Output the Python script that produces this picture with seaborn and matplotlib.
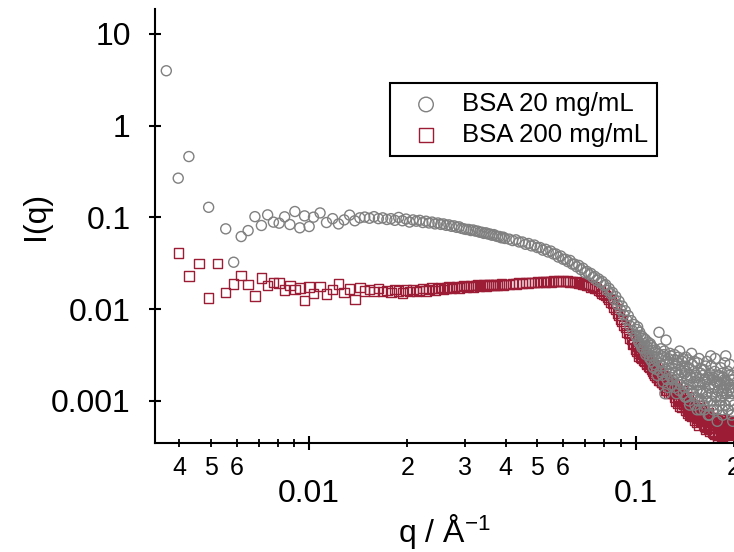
import numpy as np
import pandas as pd
import matplotlib
matplotlib.use("Agg")
import matplotlib.pyplot as plt
import seaborn as sns
from matplotlib.ticker import FixedLocator, FixedFormatter, NullLocator

# ---------------- data ----------------
q_low = [0.00365, 0.00397, 0.00428, 0.00460, 0.00492, 0.00523, 0.00555, 0.00587, 0.00619, 0.00650,
         0.00682, 0.00714, 0.00746, 0.00777, 0.00809, 0.00841, 0.00873, 0.00904, 0.00936, 0.00968,
         0.01000, 0.01031]
i20_low = [3.97, 0.268, 0.461, np.nan, 0.129, np.nan, 0.0751, 0.0325, 0.0619, 0.0719,
           0.102, 0.0817, 0.1067, 0.0889, 0.0866, 0.1016, 0.0837, 0.116, 0.0771, 0.104,
           0.0796, 0.1007]
i200_low = [np.nan, 0.0408, 0.0229, 0.0314, 0.0132, 0.0314, 0.0151, 0.0188, 0.0232, 0.0185,
            0.0139, 0.0219, 0.0181, 0.0195, 0.0192, 0.0162, 0.0180, 0.0165, 0.0171, 0.0124,
            0.0175, 0.0149]

q_mid = [0.0108, 0.0113, 0.0118, 0.0123, 0.0128, 0.0133, 0.0138, 0.0143, 0.0148, 0.0153,
         0.0158, 0.0163, 0.0168, 0.0173, 0.0178, 0.0183, 0.0188, 0.0193, 0.0198, 0.0203,
         0.0208, 0.0213, 0.0218, 0.0223, 0.0228, 0.0233, 0.0238, 0.0243, 0.0248, 0.0253,
         0.0258, 0.0263, 0.0268, 0.0273, 0.0278, 0.0283, 0.0288, 0.0293, 0.0298, 0.0303,
         0.0308, 0.0313, 0.0318, 0.0323, 0.0328, 0.0333, 0.0338, 0.0343, 0.0348, 0.0353,
         0.0358, 0.0363, 0.0368, 0.0373, 0.0378, 0.0383, 0.0388, 0.0393, 0.0398]
i20_mid = [0.112, 0.088, 0.097, 0.085, 0.094, 0.106, 0.092, 0.099, 0.101, 0.098,
           0.102, 0.097, 0.099, 0.095, 0.097, 0.093, 0.100, 0.092, 0.096, 0.089,
           0.094, 0.091, 0.093, 0.088, 0.091, 0.087, 0.089, 0.085, 0.087, 0.084,
           0.085, 0.082, 0.083, 0.080, 0.081, 0.078, 0.079, 0.076, 0.075, 0.074,
           0.074, 0.072, 0.073, 0.071, 0.071, 0.069, 0.069, 0.067, 0.068, 0.066,
           0.066, 0.064, 0.065, 0.063, 0.062, 0.062, 0.060, 0.061, 0.059]
i200_mid = [0.0178, 0.0146, 0.0163, 0.0189, 0.0151, 0.0166, 0.0128, 0.0172, 0.0158, 0.0163,
            0.0155, 0.0169, 0.0157, 0.0161, 0.0152, 0.0164, 0.0158, 0.0150, 0.0162, 0.0157,
            0.0165, 0.0155, 0.0160, 0.0168, 0.0158, 0.0163, 0.0170, 0.0161, 0.0167, 0.0172,
            0.0164, 0.0170, 0.0175, 0.0167, 0.0173, 0.0178, 0.0171, 0.0176, 0.0180, 0.0174,
            0.0178, 0.0182, 0.0175, 0.0180, 0.0183, 0.0177, 0.0181, 0.0185, 0.0179, 0.0183,
            0.0186, 0.0180, 0.0184, 0.0187, 0.0182, 0.0186, 0.0189, 0.0184, 0.0187]

q_high = [0.041, 0.042, 0.043, 0.044, 0.045, 0.046, 0.047, 0.048, 0.049, 0.050,
          0.051, 0.052, 0.053, 0.054, 0.055, 0.056, 0.057, 0.058, 0.059, 0.060,
          0.061, 0.062, 0.063, 0.064, 0.065, 0.066, 0.067, 0.068, 0.069, 0.070,
          0.071, 0.072, 0.073, 0.074, 0.075, 0.076, 0.077, 0.078, 0.079, 0.080,
          0.081, 0.082, 0.083, 0.084, 0.085, 0.086, 0.087, 0.088, 0.089, 0.090,
          0.091, 0.092, 0.093, 0.094, 0.095, 0.096, 0.097, 0.098, 0.099, 0.100,
          0.101, 0.102, 0.103, 0.104, 0.105, 0.106, 0.107, 0.108, 0.109, 0.110,
          0.111, 0.112, 0.113, 0.114, 0.115, 0.116, 0.117, 0.118, 0.119, 0.120,
          0.121, 0.122, 0.123, 0.124, 0.125, 0.126, 0.127, 0.128, 0.129, 0.130,
          0.131, 0.132, 0.133, 0.134, 0.135, 0.136, 0.137, 0.138, 0.139, 0.140,
          0.141, 0.142, 0.143, 0.144, 0.145, 0.146, 0.147, 0.148, 0.149, 0.150,
          0.151, 0.152, 0.153, 0.154, 0.155, 0.156, 0.157, 0.158, 0.159, 0.160,
          0.161, 0.162, 0.163, 0.164, 0.165, 0.166, 0.167, 0.168, 0.169, 0.170,
          0.171, 0.172, 0.173, 0.174, 0.175, 0.176, 0.177, 0.178, 0.179, 0.180,
          0.181, 0.182, 0.183, 0.184, 0.185, 0.186, 0.187, 0.188, 0.189, 0.190,
          0.191, 0.192, 0.193, 0.194, 0.195, 0.196, 0.197, 0.198, 0.199, 0.200]
i20_high = [0.058, 0.056, 0.057, 0.054, 0.054, 0.051, 0.052, 0.049, 0.050, 0.047,
            0.047, 0.044, 0.045, 0.042, 0.043, 0.040, 0.040, 0.037, 0.038, 0.035,
            0.035, 0.033, 0.034, 0.031, 0.031, 0.029, 0.030, 0.027, 0.028, 0.025,
            0.0258, 0.0238, 0.0245, 0.0222, 0.0228, 0.0206, 0.0214, 0.0195, 0.0201, 0.0182,
            0.0185, 0.0160, 0.0168, 0.0147, 0.0152, 0.0128, 0.0137, 0.0112, 0.0122, 0.0098,
            0.0108, 0.0087, 0.0096, 0.0076, 0.0085, 0.0066, 0.0075, 0.0058, 0.0068, 0.0052,
            0.0060, 0.0045, 0.0056, 0.0041, 0.0050, 0.0037, 0.0047, 0.0034, 0.0044, 0.0031,
            0.0042, 0.0027, 0.0038, 0.0025, 0.0036, 0.0022, 0.0033, 0.0056, 0.0021, 0.0031,
            0.0019, 0.0032, 0.0012, 0.0046, 0.0017, 0.0029, 0.0020, 0.0031, 0.0015, 0.0026,
            0.0028, 0.0014, 0.0024, 0.0017, 0.0030, 0.0013, 0.0022, 0.0016, 0.0027, 0.0012,
            0.0024, 0.0011, 0.0021, 0.0015, 0.0028, 0.0010, 0.0019, 0.0013, 0.0025, 0.0012,
            0.0021, 0.0009, 0.0018, 0.0013, 0.0026, 0.0010, 0.0016, 0.0008, 0.0022, 0.0012,
            0.0019, 0.0009, 0.0016, 0.0024, 0.0011, 0.0017, 0.0007, 0.0014, 0.0020, 0.0031,
            0.0010, 0.0017, 0.0008, 0.0014, 0.0021, 0.0011, 0.0016, 0.0006, 0.0013, 0.0019,
            0.0009, 0.0015, 0.0011, 0.0020, 0.0007, 0.0013, 0.0017, 0.0009, 0.0031, 0.0012,
            0.0016, 0.0008, 0.0013, 0.0019, 0.0010, 0.0014, 0.0007, 0.0012, 0.0017, 0.0009]
i200_high = [0.0185, 0.0190, 0.0188, 0.0192, 0.0190, 0.0194, 0.0192, 0.0196, 0.0194, 0.0197,
             0.0195, 0.0199, 0.0197, 0.0201, 0.0198, 0.0202, 0.0199, 0.0203, 0.0200, 0.0202,
             0.0199, 0.0202, 0.0198, 0.0200, 0.0195, 0.0197, 0.0192, 0.0193, 0.0187, 0.0188,
             0.0182, 0.0183, 0.0175, 0.0176, 0.0168, 0.0167, 0.0159, 0.0158, 0.0149, 0.0147,
             0.0140, 0.0134, 0.0128, 0.0120, 0.0115, 0.0104, 0.0100, 0.0090, 0.0086, 0.0077,
             0.0074, 0.0066, 0.0063, 0.0056, 0.0054, 0.0048, 0.0047, 0.0041, 0.0042, 0.0037,
             0.0039, 0.0033, 0.0036, 0.0030, 0.0034, 0.0028, 0.0031, 0.0026, 0.0029, 0.0024,
             0.0027, 0.0022, 0.0025, 0.0020, 0.0023, 0.0018, 0.0021, 0.0017, 0.0020, 0.0016,
             0.0019, 0.0015, 0.0018, 0.0013, 0.0017, 0.0014, 0.0016, 0.0012, 0.0015, 0.0013,
             0.0015, 0.0011, 0.0014, 0.0012, 0.0013, 0.00098, 0.0012, 0.0010, 0.0013, 0.00092,
             0.0011, 0.00085, 0.0010, 0.00078, 0.0011, 0.00082, 0.00095, 0.00072, 0.00090, 0.00076,
             0.00092, 0.00068, 0.00085, 0.00064, 0.00080, 0.00070, 0.00088, 0.00060, 0.00078, 0.00066,
             0.00074, 0.00056, 0.00070, 0.00052, 0.00068, 0.00060, 0.00075, 0.00050, 0.00064, 0.00058,
             0.00066, 0.00047, 0.00060, 0.00044, 0.00058, 0.00052, 0.00063, 0.00042, 0.00057, 0.00050,
             0.00060, 0.00045, 0.00055, 0.00041, 0.00058, 0.00048, 0.00062, 0.00044, 0.00053, 0.00049,
             0.00057, 0.00046, 0.00054, 0.00043, 0.00059, 0.00048, 0.00052, 0.00045, 0.00056, 0.00050]

# extra (interleaved) points of the dense, noisy high-q tail
q_tail = [0.1005, 0.1015, 0.1025, 0.1035, 0.1045, 0.1055, 0.1065, 0.1075, 0.1085, 0.1095,
          0.1105, 0.1115, 0.1125, 0.1135, 0.1145, 0.1155, 0.1165, 0.1175, 0.1185, 0.1195,
          0.1205, 0.1215, 0.1225, 0.1235, 0.1245, 0.1255, 0.1265, 0.1275, 0.1285, 0.1295,
          0.1305, 0.1315, 0.1325, 0.1335, 0.1345, 0.1355, 0.1365, 0.1375, 0.1385, 0.1395,
          0.1405, 0.1415, 0.1425, 0.1435, 0.1445, 0.1455, 0.1465, 0.1475, 0.1485, 0.1495,
          0.1505, 0.1515, 0.1525, 0.1535, 0.1545, 0.1555, 0.1565, 0.1575, 0.1585, 0.1595,
          0.1605, 0.1615, 0.1625, 0.1635, 0.1645, 0.1655, 0.1665, 0.1675, 0.1685, 0.1695,
          0.1705, 0.1715, 0.1725, 0.1735, 0.1745, 0.1755, 0.1765, 0.1775, 0.1785, 0.1795,
          0.1805, 0.1815, 0.1825, 0.1835, 0.1845, 0.1855, 0.1865, 0.1875, 0.1885, 0.1895,
          0.1905, 0.1915, 0.1925, 0.1935, 0.1945, 0.1955, 0.1965, 0.1975, 0.1985, 0.1995]
i20_tail = [0.0050, 0.0064, 0.0043, 0.0052, 0.0038, 0.0048, 0.0042, 0.0032, 0.0039, 0.0036,
            0.0029, 0.0040, 0.0031, 0.0023, 0.0034, 0.0028, 0.0019, 0.0030, 0.0026, 0.0037,
            0.0024, 0.0016, 0.0035, 0.0022, 0.0027, 0.0014, 0.0025, 0.0033, 0.0018, 0.0023,
            0.0017, 0.0032, 0.0020, 0.0012, 0.0026, 0.0019, 0.0035, 0.0015, 0.0021, 0.0029,
            0.0014, 0.0020, 0.0030, 0.0011, 0.0017, 0.0023, 0.0009, 0.0018, 0.0033, 0.0015,
            0.0016, 0.0027, 0.0011, 0.0019, 0.0008, 0.0015, 0.0029, 0.0013, 0.0020, 0.0010,
            0.0013, 0.0022, 0.0008, 0.0017, 0.0012, 0.0027, 0.0010, 0.0018, 0.0007, 0.0015,
            0.0024, 0.0012, 0.0018, 0.0009, 0.0015, 0.0029, 0.0011, 0.0008, 0.0019, 0.0013,
            0.0016, 0.0010, 0.0023, 0.0012, 0.0008, 0.0018, 0.0014, 0.0026, 0.0009, 0.0015,
            0.0012, 0.0021, 0.0008, 0.0015, 0.0025, 0.0010, 0.0017, 0.0013, 0.0006, 0.0019]
i200_tail = [0.0035, 0.0040, 0.0031, 0.0036, 0.0029, 0.0032, 0.0027, 0.0030, 0.0025, 0.0027,
             0.0023, 0.0026, 0.0021, 0.0024, 0.0019, 0.0022, 0.0018, 0.0020, 0.0017, 0.0019,
             0.0016, 0.0019, 0.0014, 0.0017, 0.0013, 0.0016, 0.0012, 0.0015, 0.0013, 0.0014,
             0.0012, 0.0014, 0.0010, 0.0013, 0.00095, 0.0012, 0.00088, 0.0011, 0.00085, 0.0010,
             0.00092, 0.0010, 0.00080, 0.00094, 0.00074, 0.00088, 0.00070, 0.00084, 0.00068, 0.00080,
             0.00075, 0.00062, 0.00082, 0.00058, 0.00074, 0.00066, 0.00054, 0.00071, 0.00063, 0.00069,
             0.00061, 0.00072, 0.00053, 0.00066, 0.00049, 0.00063, 0.00055, 0.00070, 0.00047, 0.00060,
             0.00054, 0.00065, 0.00046, 0.00059, 0.00043, 0.00056, 0.00051, 0.00061, 0.00040, 0.00053,
             0.00050, 0.00063, 0.00043, 0.00055, 0.00047, 0.00060, 0.00042, 0.00052, 0.00057, 0.00046,
             0.00053, 0.00044, 0.00058, 0.00049, 0.00042, 0.00055, 0.00047, 0.00061, 0.00044, 0.00051]

series_labels = ["BSA 20 mg/mL", "BSA 200 mg/mL"]

x_major_ticks = [0.01, 0.1]
x_major_labels = ["0.01", "0.1"]
x_minor_ticks = [0.004, 0.005, 0.006, 0.007, 0.008, 0.009,
                 0.02, 0.03, 0.04, 0.05, 0.06, 0.07, 0.08, 0.09, 0.2]
x_minor_labels = ["4", "5", "6", "", "", "",
                  "2", "3", "4", "5", "6", "", "", "", "2"]
y_ticks = [0.001, 0.01, 0.1, 1, 10]
y_tick_labels = ["0.001", "0.01", "0.1", "1", "10"]

q = q_low + q_mid + q_high + q_tail
i20 = i20_low + i20_mid + i20_high + i20_tail
i200 = i200_low + i200_mid + i200_high + i200_tail
assert len(q) == len(i20) == len(i200)

df20 = pd.DataFrame({"q": q, "I": i20}).dropna()
df200 = pd.DataFrame({"q": q, "I": i200}).dropna()

# ---------------- style ----------------
sns.set_theme(style="ticks")
plt.rcParams["font.family"] = ["Liberation Sans", "DejaVu Sans"]
plt.rcParams["mathtext.fontset"] = "custom"
plt.rcParams["mathtext.rm"] = "Liberation Sans"
plt.rcParams["mathtext.it"] = "Liberation Sans:italic"
plt.rcParams["mathtext.default"] = "regular"
plt.rcParams["text.color"] = "black"

GREY = "#808080"
RED = "#9c1c36"

fig = plt.figure(figsize=(7.34, 5.52), dpi=100)
ax = fig.add_axes([155 / 734, 109 / 552, 579 / 734, 434 / 552])

sns.scatterplot(data=df200, x="q", y="I", ax=ax, marker="s", s=46,
                color=RED, facecolor="none", edgecolor=RED, linewidth=1.0,
                label=series_labels[1], zorder=2)
sns.scatterplot(data=df20, x="q", y="I", ax=ax, marker="o", s=52,
                color=GREY, facecolor="none", edgecolor=GREY, linewidth=1.0,
                label=series_labels[0], zorder=3)

ax.set_xscale("log")
ax.set_yscale("log")
ax.set_xlim(0.00337, 0.2003)
ax.set_ylim(0.000348, 18.7)

for s in ["top", "right"]:
    ax.spines[s].set_visible(False)
for s in ["left", "bottom"]:
    ax.spines[s].set_linewidth(1.5)
    ax.spines[s].set_color("black")

ax.xaxis.set_major_locator(FixedLocator(x_major_ticks))
ax.xaxis.set_major_formatter(FixedFormatter(x_major_labels))
ax.xaxis.set_minor_locator(FixedLocator(x_minor_ticks))
ax.xaxis.set_minor_formatter(FixedFormatter(x_minor_labels))
ax.yaxis.set_major_locator(FixedLocator(y_ticks))
ax.yaxis.set_major_formatter(FixedFormatter(y_tick_labels))
ax.yaxis.set_minor_locator(NullLocator())

ax.tick_params(axis="x", which="major", direction="inout", length=10, width=1.5,
               pad=21, labelsize=23, colors="black")
ax.tick_params(axis="x", which="minor", direction="inout", length=6, width=1.3,
               pad=6.5, labelsize=18, colors="black")
ax.tick_params(axis="y", which="major", direction="inout", length=9, width=1.5,
               pad=13, labelsize=23, colors="black")

ax.set_xlabel("q / Å$^{-1}$", fontsize=23, color="black")
ax.xaxis.set_label_coords(0.5, -0.160)
ax.set_ylabel("I(q)", fontsize=23, color="black")
ax.yaxis.set_label_coords(-0.18, 0.523)

handles, labels = ax.get_legend_handles_labels()
order = [labels.index(series_labels[0]), labels.index(series_labels[1])]
leg = ax.legend([handles[i] for i in order], [labels[i] for i in order],
                loc="upper left", bbox_to_anchor=(0.406, 0.829),
                frameon=True, fancybox=False, framealpha=1, edgecolor="black",
                fontsize=18.5, labelcolor="black", markerscale=1.45,
                handlelength=2.1, handletextpad=0.35, borderpad=0.35,
                labelspacing=0.25, borderaxespad=0)
leg.get_frame().set_linewidth(1.5)

fig.savefig("out.png", dpi=100)
